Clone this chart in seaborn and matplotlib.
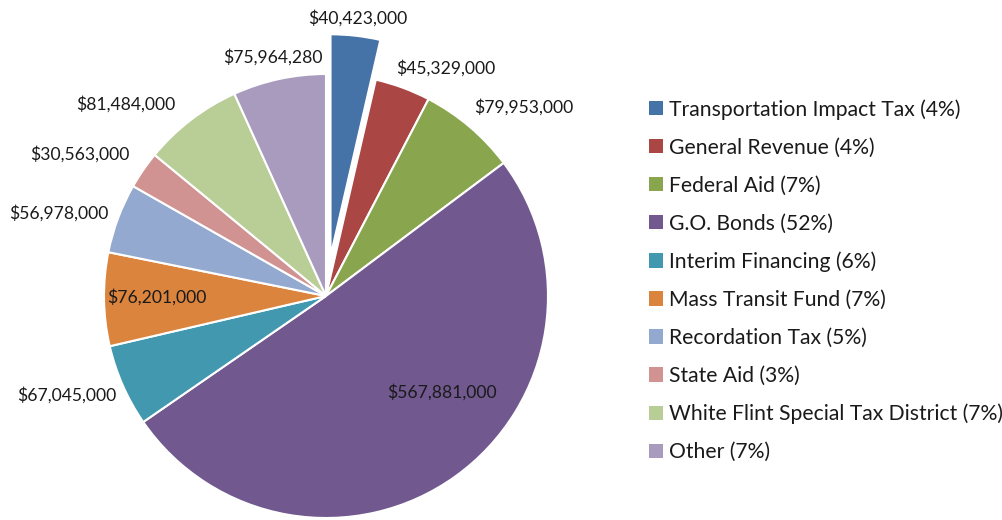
import numpy as np
import matplotlib
matplotlib.use("Agg")
import matplotlib.pyplot as plt
import seaborn as sns
from matplotlib.patches import Patch

categories = ["Transportation Impact Tax", "General Revenue", "Federal Aid", "G.O. Bonds",
              "Interim Financing", "Mass Transit Fund", "Recordation Tax", "State Aid",
              "White Flint Special Tax District", "Other"]
values = [40423000, 45329000, 79953000, 567881000, 67045000, 76201000, 56978000,
          30563000, 81484000, 75964280]
legend_pct = ["4%", "4%", "7%", "52%", "6%", "7%", "5%", "3%", "7%", "7%"]

colors = ["#4572A7", "#AA4643", "#89A54E", "#71588F", "#4198AF", "#DB843D",
          "#93A9CF", "#D19392", "#B9CD96", "#A99BBD"]
explode = [0.18, 0, 0, 0, 0, 0, 0, 0, 0, 0]
# label layout (radial distance and angular nudge, degrees)
label_dist = [1.08, 1.16, 1.23, 0.68, 1.25, 0.76, 1.26, 1.28, 1.25, 1.10]
label_shift = [0, -7.5, -6, 14.7, -2.8, -0.6, 3.3, 4.7, 8.7, 0.3]

sns.set_theme(style="white")
plt.rcParams['font.family'] = ['Lato', 'DejaVu Sans']

fig = plt.figure(figsize=(10.03, 5.2), dpi=100)
fig.patch.set_facecolor("white")
ax = fig.add_axes([104 / 1003, 2 / 520, 444 / 1003, 444 / 520])

wedges, _ = ax.pie(values, colors=colors, explode=explode, startangle=90,
                   counterclock=False, radius=1.0,
                   wedgeprops=dict(edgecolor="white", linewidth=1.5))
for w in wedges:
    w.set_clip_on(False)
ax.set_xlim(-1, 1)
ax.set_ylim(-1, 1)
ax.set_aspect("equal")
ax.axis("off")

for w, v, d, s in zip(wedges, values, label_dist, label_shift):
    mid = np.deg2rad((w.theta1 + w.theta2) / 2 + s)
    cx, cy = w.center
    ax.text(cx + d * np.cos(mid), cy + d * np.sin(mid), f"${v:,.0f}",
            ha="center", va="center", fontsize=12.6, color="#1a1a1a", clip_on=False)

handles = [Patch(facecolor=c, edgecolor="none") for c in colors]
labels = [f"{c} ({p})" for c, p in zip(categories, legend_pct)]
fig.legend(handles, labels, loc="upper left", bbox_to_anchor=(649 / 1003, 1 - 99 / 520),
           frameon=False, fontsize=15.2, handlelength=0.66, handleheight=0.66,
           handletextpad=0.3, labelspacing=0.85, borderpad=0, borderaxespad=0,
           labelcolor="#1a1a1a")

fig.savefig("out.png", dpi=100, facecolor="white")
